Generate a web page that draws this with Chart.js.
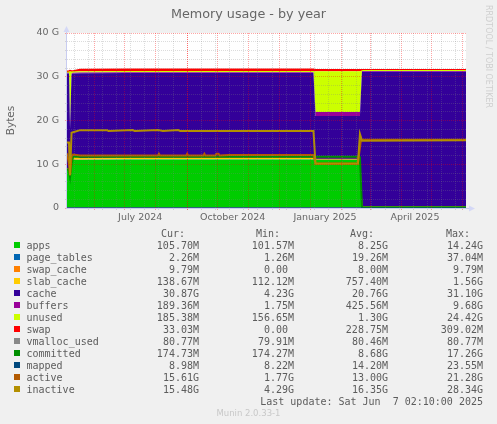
<!DOCTYPE html>
<html>
<head>
<meta charset="utf-8">
<title>Memory usage - by year</title>
<script src="https://cdn.jsdelivr.net/npm/chart.js@4/dist/chart.umd.min.js"></script>
<style>
html, body { margin: 0; padding: 0; background: #f0f0f0; overflow: hidden; }
#wrap { position: relative; width: 497px; height: 424px; }
#chart { position: absolute; left: 0; top: 0; }
.t { position: absolute; font: 10px "DejaVu Sans Mono", monospace; color: #5c5c5c; white-space: pre; line-height: 12px; }
.sw { position: absolute; width: 6px; height: 6px; }
#rrd { position: absolute; left: 484px; top: 5px; writing-mode: vertical-rl; font: 8px "DejaVu Sans", sans-serif; color: #cfcfcf; white-space: pre; }
#munin { position: absolute; left: 0; width: 497px; top: 408px; text-align: center; font: 8.5px "DejaVu Sans", sans-serif; color: #c8c8c8; }
</style>
</head>
<body>
<div id="wrap">
  <canvas id="chart" width="497" height="424"></canvas>
  <div id="rrd">RRDTOOL / TOBI OETIKER</div>
  <div id="munin">Munin 2.0.33-1</div>
</div>
<script>
// x is days since the left edge of the graph, y is in G
const days = [0, 2, 3, 4.5, 6, 13, 60, 120, 180, 244, 246, 248, 288, 290, 292, 293, 340, 395];

const apps       = [8.8, 8.5, 6.5, 9.5, 11, 11, 11.1, 11.1, 11.1, 11.1, 11, 11, 11, 10.8, 0.11, 0.11, 0.11, 0.11];
const pageTables = [0.03, 0.03, 0.03, 0.03, 0.03, 0.03, 0.03, 0.03, 0.03, 0.03, 0.03, 0.03, 0.03, 0.03, 0.01, 0.01, 0.01, 0.01];
const swapCache  = [0, 0, 0, 0, 0.01, 0.01, 0.01, 0.01, 0.01, 0.01, 0.01, 0.01, 0.01, 0.01, 0.01, 0.01, 0.01, 0.01];
const slabCache  = [0.2, 0.2, 0.2, 0.2, 0.8, 0.3, 0.3, 0.3, 0.3, 0.3, 0.1, 0.1, 0.1, 0.1, 0.14, 0.14, 0.14, 0.14];
const cache      = [21.7, 22, 11.4, 20.8, 18.9, 19.45, 19.4, 19.4, 19.4, 19.4, 9.9, 9.9, 9.9, 10.1, 30.85, 30.87, 30.87, 30.87];
const buffers    = [0.19, 0.19, 0.19, 0.19, 0.19, 0.19, 0.19, 0.19, 0.19, 0.19, 0.9, 0.9, 0.9, 0.9, 0.19, 0.19, 0.19, 0.19];
const unused     = [0.2, 0.3, 13, 0.5, 0.3, 0.3, 0.3, 0.3, 0.3, 0.3, 9.3, 9.3, 9.3, 9.3, 0.19, 0.19, 0.19, 0.19];
const swap       = [0.05, 0.05, 0.05, 0.05, 0.05, 0.31, 0.31, 0.31, 0.31, 0.31, 0.31, 0.31, 0.31, 0.31, 0.03, 0.03, 0.03, 0.03];
const vmallocUsed = [0.08, 0.08, 0.08, 0.08, 0.08, 0.08, 0.08, 0.08, 0.08, 0.08, 0.08, 0.08, 0.08, 0.08, 0.08, 0.08, 0.08, 0.08];
const committed  = [9, 8.5, 7, 10, 11.7, 11.7, 11.7, 11.7, 11.7, 11.7, 11.7, 11.7, 11.7, 11.6, 0.17, 0.17, 0.17, 0.17];
const mapped     = [0.02, 0.02, 0.02, 0.02, 0.02, 0.02, 0.02, 0.02, 0.02, 0.02, 0.02, 0.02, 0.02, 0.02, 0.01, 0.01, 0.01, 0.01];

const activeDays = [0, 2, 3, 4.5, 6, 13, 90, 91, 92, 118, 119, 120, 135, 136, 137, 147, 148, 150, 151, 160, 244, 246, 288, 291, 293, 395];
const active     = [12.5, 10, 7.5, 11.8, 12.2, 12.0, 12.0, 12.4, 12.0, 12.0, 12.4, 12.0, 12.0, 12.4, 12.0, 12.0, 12.4, 12.4, 12.0, 12.1, 12.1, 10.2, 10.2, 15.6, 15.6, 15.61];

const inactiveDays = [0, 2, 3, 4.5, 6, 13, 40, 41, 65, 67, 90, 95, 110, 112, 244, 246, 288, 290, 292, 395];
const inactive     = [15, 15, 7.5, 17.2, 17.3, 17.8, 17.8, 17.6, 17.8, 17.6, 17.8, 17.6, 17.8, 17.6, 17.6, 10.1, 10.1, 16.9, 15.4, 15.48];

const yTicks = [0, 10, 20, 30, 40];
const monthStarts = [27, 57, 88, 119, 149, 180, 210, 241, 272, 300, 331, 361, 392];
const weekLines = [7, 21, 35, 49, 63, 77, 91, 105, 119, 133, 147, 161, 175, 189, 203, 217, 231, 245, 259, 273, 287, 301, 315, 329, 343, 357, 371, 385];
const xLabelDays = [72.5, 164, 255.4, 344.5];
const xLabels = ['July 2024', 'October 2024', 'January 2025', 'April 2025'];

const seriesNames = ['apps', 'page_tables', 'swap_cache', 'slab_cache', 'cache', 'buffers', 'unused', 'swap', 'vmalloc_used', 'committed', 'mapped', 'active', 'inactive'];
const seriesColors = ['#00CC00', '#0066B3', '#FF8000', '#FFCC00', '#330099', '#990099', '#CCFF00', '#FF0000', '#888888', '#008F00', '#00487D', '#B35A00', '#B38F00'];
const curText = ['105.70M', '2.26M', '9.79M', '138.67M', '30.87G', '189.36M', '185.38M', '33.03M', '80.77M', '174.73M', '8.98M', '15.61G', '15.48G'];
const minText = ['101.57M', '1.26M', '0.00 ', '112.12M', '4.23G', '1.75M', '156.65M', '0.00 ', '79.91M', '174.27M', '8.22M', '1.77G', '4.29G'];
const avgText = ['8.25G', '19.26M', '8.00M', '757.40M', '20.76G', '425.56M', '1.30G', '228.75M', '80.46M', '8.68G', '14.20M', '13.00G', '16.35G'];
const maxText = ['14.24G', '37.04M', '9.79M', '1.56G', '31.10G', '9.68G', '24.42G', '309.02M', '80.77M', '17.26G', '23.55M', '21.28G', '28.34G'];

function pts(xs, ys) {
    return ys.map(function (v, i) { return { x: xs[i], y: v }; });
}

// same order for all areas, stacking follows the sort by order then index
function area(i, values, stroke) {
    return {
        label: seriesNames[i],
        data: pts(days, values),
        stack: 'mem',
        backgroundColor: seriesColors[i],
        borderColor: seriesColors[i],
        borderWidth: stroke || 0,
        fill: i === 0 ? 'origin' : '-1',
        pointRadius: 0,
        order: 20
    };
}

function line(i, xs, values, width) {
    return {
        label: seriesNames[i],
        data: pts(xs, values),
        stack: seriesNames[i],
        borderColor: seriesColors[i],
        backgroundColor: seriesColors[i],
        borderWidth: width,
        fill: false,
        pointRadius: 0,
        order: 13 - i
    };
}

// plot background, axis lines and the little rrdtool axis arrows
const plotDecor = {
    id: 'plotDecor',
    beforeDraw: function (chart) {
        const a = chart.chartArea;
        chart.ctx.fillStyle = '#ffffff';
        chart.ctx.fillRect(a.left, a.top, a.right - a.left, a.bottom - a.top);
    },
    afterDraw: function (chart) {
        const a = chart.chartArea;
        const ctx = chart.ctx;
        ctx.strokeStyle = '#c8ccf0';
        ctx.lineWidth = 1;
        ctx.beginPath();
        ctx.moveTo(a.left - 0.5, a.top - 2);
        ctx.lineTo(a.left - 0.5, a.bottom + 1);
        ctx.moveTo(a.left - 1, a.bottom + 0.5);
        ctx.lineTo(a.right + 4, a.bottom + 0.5);
        ctx.stroke();
        ctx.fillStyle = '#d4d8f6';
        ctx.beginPath();
        ctx.moveTo(a.left - 3.5, a.top - 1);
        ctx.lineTo(a.left - 0.5, a.top - 7);
        ctx.lineTo(a.left + 2.5, a.top - 1);
        ctx.fill();
        ctx.beginPath();
        ctx.moveTo(a.right + 3, a.bottom - 2.5);
        ctx.lineTo(a.right + 9, a.bottom + 0.5);
        ctx.lineTo(a.right + 3, a.bottom + 3.5);
        ctx.fill();
    }
};

new Chart(document.getElementById('chart'), {
    type: 'line',
    data: {
        datasets: [
            area(0, apps), area(1, pageTables), area(2, swapCache), area(3, slabCache, 1),
            area(4, cache), area(5, buffers), area(6, unused), area(7, swap, 2),
            line(8, days, vmallocUsed, 1), line(9, days, committed, 2), line(10, days, mapped, 1),
            line(11, activeDays, active, 2), line(12, inactiveDays, inactive, 2)
        ]
    },
    plugins: [plotDecor],
    options: {
        responsive: false,
        animation: false,
        devicePixelRatio: 1,
        layout: { padding: { left: 0, right: 0, top: 0, bottom: 196 } },
        plugins: {
            legend: { display: false },
            tooltip: { enabled: false },
            title: {
                display: true,
                text: 'Memory usage - by year',
                color: '#666666',
                font: { family: 'DejaVu Sans', size: 12.75, weight: 'normal', lineHeight: 1.2 },
                padding: { top: 7, bottom: 10.7 }
            }
        },
        scales: {
            x: {
                type: 'linear',
                min: 0,
                max: 395,
                afterBuildTicks: function (scale) {
                    const vals = weekLines.concat(monthStarts, xLabelDays);
                    scale.ticks = vals.map(function (v) { return { value: v }; });
                },
                afterFit: function (scale) {
                    scale.height = 20;
                    scale.paddingLeft = 0;
                    scale.paddingRight = 31;
                },
                ticks: {
                    autoSkip: false,
                    maxRotation: 0,
                    padding: 2,
                    color: '#666666',
                    font: { family: 'DejaVu Sans', size: 9.5 },
                    callback: function (v) {
                        const i = xLabelDays.indexOf(v);
                        return i >= 0 ? xLabels[i] : '';
                    }
                },
                border: { display: false, dash: [1, 1] },
                grid: {
                    z: 1,
                    tickLength: 2,
                    color: function (c) {
                        if (c.tick && xLabelDays.indexOf(c.tick.value) >= 0) return 'rgba(0,0,0,0)';
                        if (c.tick && monthStarts.indexOf(c.tick.value) >= 0) return 'rgba(255,0,0,0.35)';
                        return 'rgba(128,128,128,0.28)';
                    }
                }
            },
            y: {
                stacked: true,
                min: 0,
                max: 40,
                afterFit: function (scale) {
                    scale.width = 67;
                    scale.paddingTop = 0;
                    scale.paddingBottom = 0;
                },
                title: {
                    display: true,
                    text: 'Bytes',
                    color: '#666666',
                    font: { family: 'DejaVu Sans', size: 10.5 },
                    padding: { top: 5, bottom: 0 }
                },
                ticks: {
                    stepSize: 2,
                    autoSkip: false,
                    padding: 6,
                    color: '#666666',
                    font: { family: 'DejaVu Sans', size: 9.5 },
                    callback: function (v) {
                        if (yTicks.indexOf(v) < 0) return '';
                        return v === 0 ? '0' : v + ' G';
                    }
                },
                border: { display: false, dash: [1, 1] },
                grid: {
                    z: 1,
                    tickLength: 2,
                    color: function (c) {
                        if (c.tick && yTicks.indexOf(c.tick.value) >= 0) return 'rgba(255,0,0,0.35)';
                        return 'rgba(128,128,128,0.28)';
                    }
                }
            }
        }
    }
});

// munin style legend table under the graph
const wrap = document.getElementById('wrap');

function addText(str, right, top) {
    const el = document.createElement('div');
    el.className = 't';
    el.textContent = str;
    el.style.right = (497 - right) + 'px';
    el.style.top = top + 'px';
    wrap.appendChild(el);
}

addText('Cur:', 185, 228);
addText('Min:', 280, 228);
addText('Avg:', 374, 228);
addText('Max:', 470, 228);

seriesNames.forEach(function (name, i) {
    const top = 240 + i * 12;
    const sw = document.createElement('div');
    sw.className = 'sw';
    sw.style.left = '14px';
    sw.style.top = (top + 2) + 'px';
    sw.style.background = seriesColors[i];
    wrap.appendChild(sw);

    const el = document.createElement('div');
    el.className = 't';
    el.textContent = name;
    el.style.left = '26.5px';
    el.style.top = top + 'px';
    wrap.appendChild(el);

    addText(curText[i], 199, top);
    addText(minText[i], 294, top);
    addText(avgText[i], 388, top);
    addText(maxText[i], 483, top);
});

addText('Last update: Sat Jun  7 02:10:00 2025', 483, 396);
</script>
</body>
</html>
